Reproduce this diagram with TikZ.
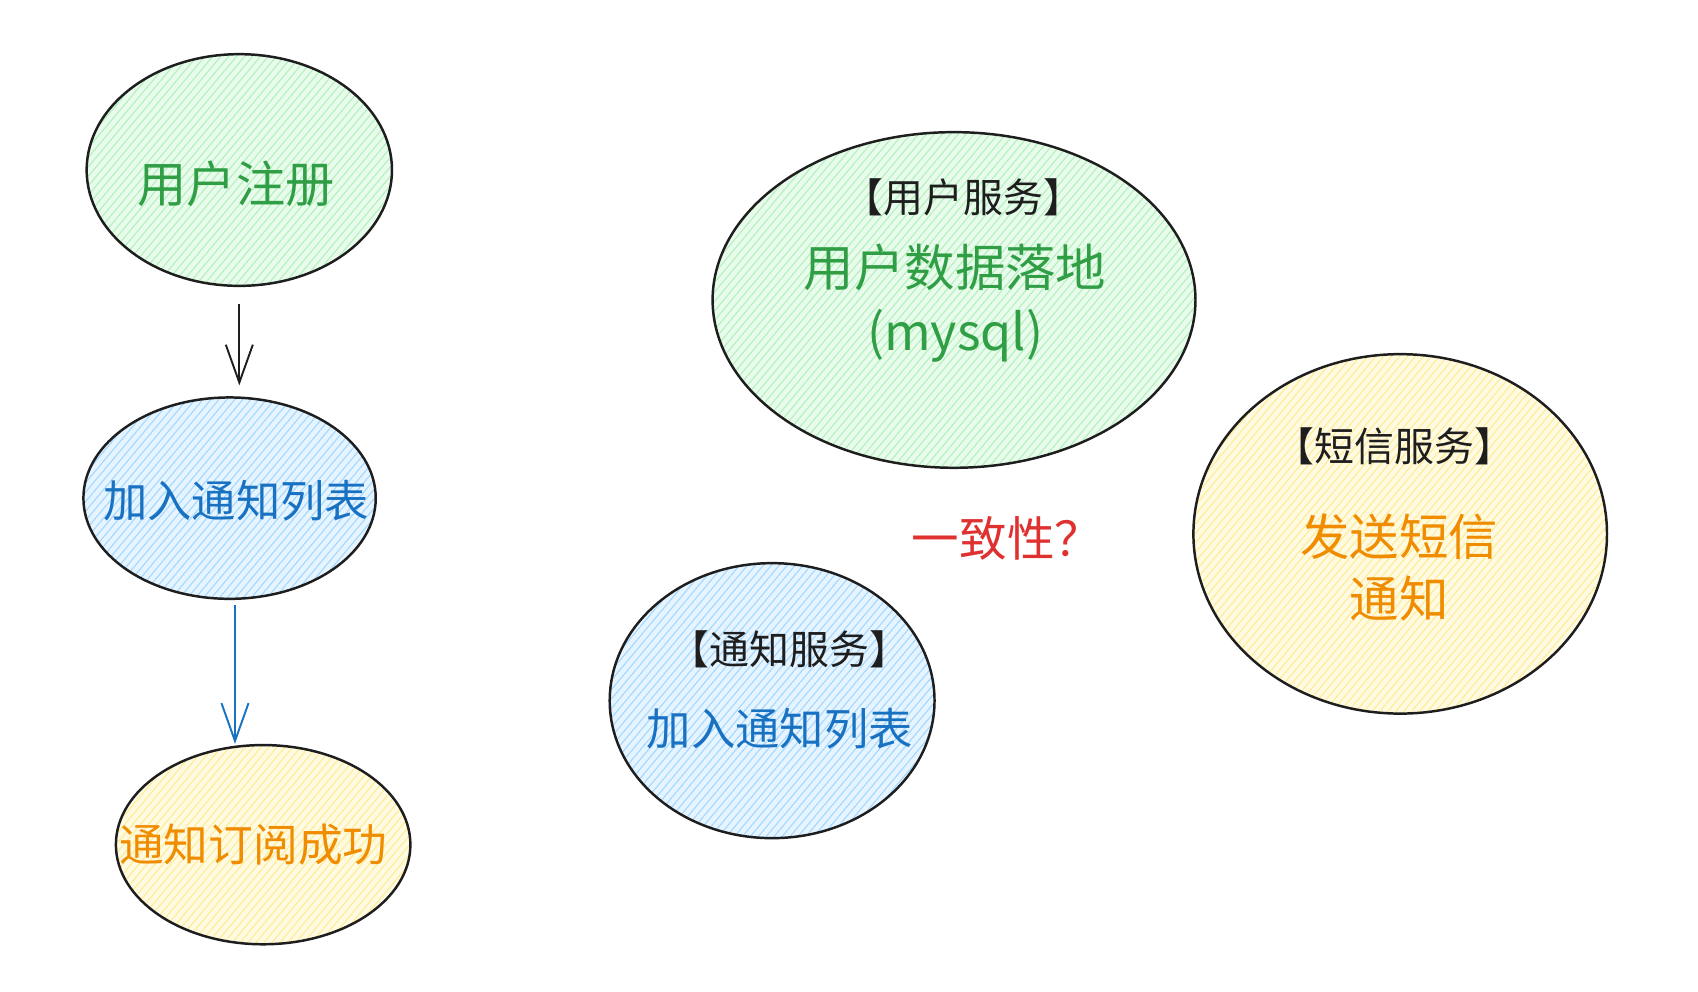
\documentclass[tikz,border=0pt]{standalone}
\usepackage{fontspec}
\setmainfont{Noto Sans CJK SC}
\usetikzlibrary{arrows.meta,shapes.geometric,patterns.meta}
\definecolor{hatchgreen}{HTML}{B2F2BB}
\definecolor{hatchblue}{HTML}{A5D8FF}
\definecolor{hatchyellow}{HTML}{FFEC99}
\definecolor{inkgreen}{HTML}{2F9E44}
\definecolor{inkblue}{HTML}{1971C2}
\definecolor{inkorange}{HTML}{F08C00}
\definecolor{inkred}{HTML}{E03131}
\definecolor{inkblack}{HTML}{1E1E1E}
\tikzset{
  bubble/.style={ellipse,draw=inkblack,line width=1.3pt,inner sep=0pt},
  hatch/.style={preaction={fill=#1!28},
                pattern={Lines[angle=50,distance=3.2pt,line width=0.6pt]},
                pattern color=#1},
  greenbubble/.style={bubble,hatch=hatchgreen},
  bluebubble/.style={bubble,hatch=hatchblue},
  yellowbubble/.style={bubble,hatch=hatchyellow},
  flow/.style={-{Straight Barb[length=7mm,width=5mm]},line width=1pt},
  txt/.style={inner sep=0pt,align=center},
  service/.style={txt,text=inkblack,font=\fontsize{21pt}{25pt}\selectfont},
}

\begin{document}
\begin{tikzpicture}[x=0.02cm,y=-0.02cm]
  \path[use as bounding box] (0,0) rectangle (1568,916);

  % left column: the subscription flow
  \node[greenbubble,minimum width=5.64cm,minimum height=4.28cm] (reg) at (221,157) {};
  \node[txt,text=inkgreen,font=\fontsize{25.9pt}{30pt}\selectfont] (regtxt) at (218,170) {用户注册};
  \node[bluebubble,minimum width=5.4cm,minimum height=3.72cm] (list) at (212,460) {};
  \node[txt,text=inkblue,font=\fontsize{23.3pt}{28pt}\selectfont] (listtxt) at (218,462) {加入通知列表};
  \node[yellowbubble,minimum width=5.44cm,minimum height=3.68cm] (sub) at (243,780) {};
  \node[txt,text=inkorange,font=\fontsize{23.5pt}{28pt}\selectfont] (subtxt) at (234,780) {通知订阅成功};

  \draw[flow,draw=inkblack,shorten <=0.32cm,shorten >=0.2cm] (reg.south) -- (reg.south |- list.north);
  \draw[flow,draw=inkblue,shorten <=0.1cm] ([xshift=0.1cm]list.south) -- ([xshift=0.1cm]list.south |- sub.north);

  % services
  \node[greenbubble,minimum width=8.92cm,minimum height=6.2cm] (usersvc) at (881,277) {};
  \node[service] (usertitle) at (890,182) {【用户服务】};
  \node[txt,text=inkgreen,font=\fontsize{26.5pt}{34pt}\selectfont] (userbody) at (882,280) {用户数据落地\\(mysql)};

  \node[yellowbubble,minimum width=7.64cm,minimum height=6.64cm] (smssvc) at (1293,493) {};
  \node[service] (smstitle) at (1288,412) {【短信服务】};
  \node[txt,text=inkorange,font=\fontsize{26pt}{33pt}\selectfont] (smsbody) at (1292,524) {发送短信\\通知};

  \node[bluebubble,minimum width=6.0cm,minimum height=5.08cm] (notesvc) at (713,647) {};
  \node[service] (notetitle) at (729,600) {【通知服务】};
  \node[txt,text=inkblue,font=\fontsize{23.3pt}{28pt}\selectfont] (notebody) at (720,673) {加入通知列表};

  \node[txt,text=inkred,font=\fontsize{25pt}{30pt}\selectfont] (question) at (930,497) {一致性？};
\end{tikzpicture}
\end{document}
